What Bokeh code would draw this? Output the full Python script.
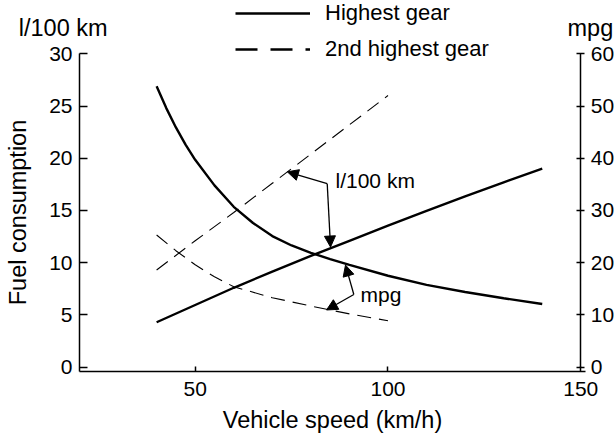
from bokeh.plotting import figure
from bokeh.models import (Range1d, LinearAxis, FixedTicker, Label, Arrow, NormalHead,
                          Legend, LegendItem)
from bokeh.embed import file_html
from bokeh.resources import INLINE

# ---------------- data ----------------
speed_top = [40, 42.5, 45, 47.5, 50, 55, 60, 65, 70, 75, 80, 85, 90, 100, 110, 120, 130, 140]
mpg_top = [53.8, 49.6, 45.9, 42.6, 39.7, 34.8, 30.7, 27.6, 25.1, 23.3, 21.9, 20.7, 19.6,
           17.5, 15.75, 14.4, 13.2, 12.1]

speed_top_l = [40, 50, 60, 70, 80, 90, 100, 110, 120, 130, 140]
l100_top = [4.3, 5.95, 7.6, 9.15, 10.65, 12.1, 13.55, 14.95, 16.35, 17.7, 19.0]

speed_2nd = [40, 50, 60, 70, 80, 90, 100]
l100_2nd = [9.3, 12.1, 14.8, 17.6, 20.4, 23.2, 26.0]
speed_2nd_mpg = [40, 45, 50, 55, 60, 70, 80, 90, 100]
mpg_2nd = [25.3, 22.3, 19.6, 17.3, 15.4, 13.3, 11.7, 10.2, 8.9]

l100_ticks = [0, 5, 10, 15, 20, 25, 30]
mpg_ticks = [0, 10, 20, 30, 40, 50, 60]
speed_ticks = [50, 100, 150]

# callouts: (speed, l/100 km) and (speed, mpg)
l100_corner = (84.24, 17.56)
l100_tips = [(73.9, 18.7), (85.1, 11.5)]
l100_text = (86.39, 17.9)
mpg_corner = (91.14, 13.92)
mpg_tips = [(88.98, 19.55), (84.06, 10.95)]
mpg_text = (92.87, 13.92)

FONT = "Liberation Sans"
TICK = "21px"
TITLE = "23.5px"
LEG = "22px"
CO = "21px"

p = figure(width=615, height=440, output_backend="svg", toolbar_location=None,
           x_range=Range1d(-0.487, 159.0), y_range=Range1d(-7.02, 35.10),
           min_border=0, min_border_left=0, min_border_right=0,
           min_border_top=0, min_border_bottom=0,
           x_axis_label="Vehicle speed (km/h)", y_axis_label="Fuel consumption")
p.extra_y_ranges = {"mpg": Range1d(-14.04, 70.2)}
p.grid.visible = False
p.outline_line_color = None
p.background_fill_color = "white"
p.border_fill_color = "white"

# axes, drawn at fixed data positions
xa = p.xaxis[0]
xa.fixed_location = -0.42
xa.bounds = (20, 151.3)
xa.ticker = FixedTicker(ticks=speed_ticks)
xa.major_tick_in = 5
xa.major_tick_out = 0
xa.major_label_standoff = 10
xa.axis_label_standoff = 8

ya = p.yaxis[0]
ya.fixed_location = 20
ya.bounds = (-0.42, 30)
ya.ticker = FixedTicker(ticks=l100_ticks)
ya.major_tick_in = 8
ya.major_tick_out = 0
ya.major_label_standoff = 7
ya.axis_label_standoff = 15

ra = LinearAxis(y_range_name="mpg", ticker=FixedTicker(ticks=mpg_ticks), bounds=(0, 60),
                fixed_location=150)
ra.major_tick_in = 4
ra.major_tick_out = 4
ra.major_label_standoff = 6
p.add_layout(ra, "right")

for ax in (xa, ya, ra):
    ax.minor_tick_line_color = None
    ax.axis_line_width = 1.5
    ax.major_tick_line_width = 1.5
    ax.major_label_text_font = FONT
    ax.major_label_text_font_size = TICK
    ax.major_label_text_color = "black"
    ax.axis_label_text_font = FONT
    ax.axis_label_text_font_size = TITLE
    ax.axis_label_text_font_style = "normal"
    ax.axis_label_text_color = "black"
    ax.axis_line_color = "black"
    ax.major_tick_line_color = "black"

# curves
r_hi = p.line(speed_top_l, l100_top, line_color="black", line_width=2.4)
p.line(speed_top, mpg_top, line_color="black", line_width=2.4, y_range_name="mpg")
p.line(speed_2nd, l100_2nd, line_color="black", line_width=1.1, line_dash="14 8")
p.line(speed_2nd_mpg, mpg_2nd, line_color="black", line_width=1.1, line_dash="14 8",
       y_range_name="mpg")

# hidden renderer that only gives the legend its thick dashed sample
r_2nd_key = p.line(speed_2nd, l100_2nd, line_color="black", line_width=2.4, line_dash="22 13",
                   visible=False)
leg = Legend(items=[LegendItem(label="Highest gear", renderers=[r_hi]),
                    LegendItem(label="2nd highest gear", renderers=[r_2nd_key])],
             location=(235, 378), orientation="vertical", click_policy="none",
             glyph_width=75, glyph_height=26, label_height=26, label_standoff=15,
             spacing=10, padding=0, margin=0, border_line_color=None,
             background_fill_alpha=0, label_text_font=FONT, label_text_font_size=LEG,
             label_text_color="black")
p.add_layout(leg)

# axis unit titles
p.add_layout(Label(x=4.26, y=32.42, text="l/100 km", text_font=FONT, text_font_size=TITLE,
                   text_color="black", text_baseline="alphabetic", text_align="left"))
p.add_layout(Label(x=146.56, y=32.42, text="mpg", text_font=FONT, text_font_size=TITLE,
                   text_color="black", text_baseline="alphabetic", text_align="left"))

# callouts
for tip in l100_tips:
    p.add_layout(Arrow(x_start=l100_corner[0], y_start=l100_corner[1], x_end=tip[0], y_end=tip[1],
                       line_width=1.3, line_color="black",
                       end=NormalHead(size=11, fill_color="black", line_color="black", line_width=1)))
for tip in mpg_tips:
    p.add_layout(Arrow(x_start=mpg_corner[0], y_start=mpg_corner[1], x_end=tip[0], y_end=tip[1],
                       y_range_name="mpg", line_width=1.3, line_color="black",
                       end=NormalHead(size=11, fill_color="black", line_color="black", line_width=1)))
p.add_layout(Label(x=l100_text[0], y=l100_text[1], text="l/100 km", text_font=FONT, text_font_size=CO,
                   text_color="black", text_baseline="alphabetic", text_align="left"))
p.add_layout(Label(x=mpg_text[0], y=mpg_text[1], y_range_name="mpg", text="mpg", text_font=FONT,
                   text_font_size=CO, text_color="black", text_baseline="alphabetic", text_align="left"))

open("out.html", "w").write(file_html(p, INLINE))
